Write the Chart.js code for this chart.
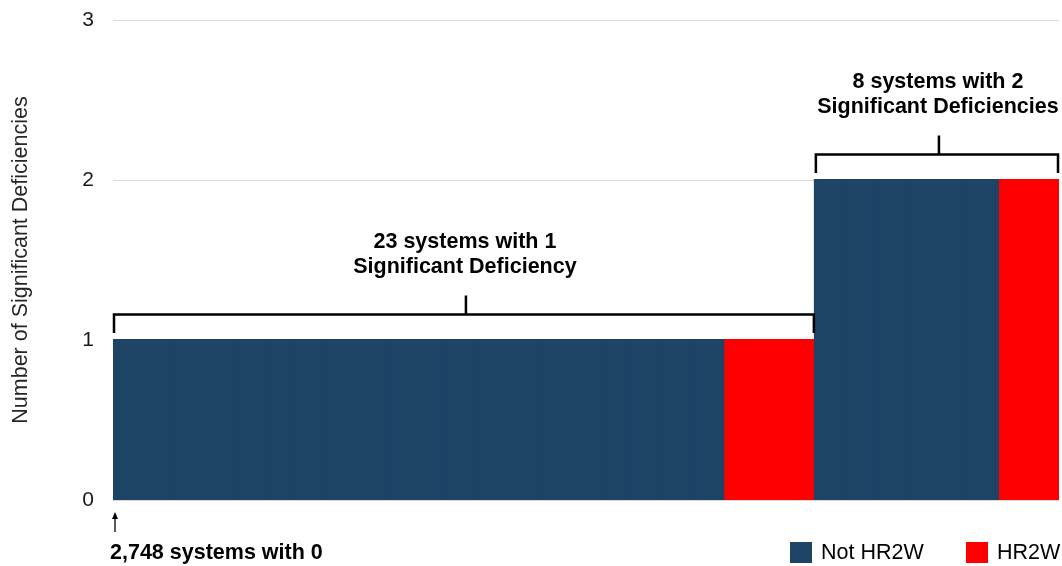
<!DOCTYPE html>
<html>
<head>
<meta charset="utf-8">
<script src="https://cdn.jsdelivr.net/npm/chart.js@4"></script>
<style>
	body { margin: 0; background: #fff; }
	#wrap { width: 1062px; height: 566px; position: relative; }
</style>
</head>
<body>
<div id="wrap"><canvas id="canvas"></canvas></div>
<script>
// groups of systems by number of significant deficiencies
const deficiencyLevels = [1, 2];
const notHr2wCounts = [20, 6];
const hr2wCounts = [3, 2];
const groupLabels = [
	["23 systems with 1", "Significant Deficiency"],
	["8 systems with 2", "Significant Deficiencies"],
];
const zeroLabel = "2,748 systems with 0";
const yTicks = [0, 1, 2, 3];
const seriesNames = ["Not HR2W", "HR2W"];
const seriesColors = ["#1d4465", "#ff0000"];

// one bar per system, in group order
const systems = [];
const notHr2wData = [];
const hr2wData = [];
deficiencyLevels.forEach((level, g) => {
	for (let i = 0; i < notHr2wCounts[g]; i++) {
		systems.push(systems.length + 1);
		notHr2wData.push(level);
		hr2wData.push(null);
	}
	for (let i = 0; i < hr2wCounts[g]; i++) {
		systems.push(systems.length + 1);
		notHr2wData.push(null);
		hr2wData.push(level);
	}
});

const FONT = "'Liberation Sans', Arial, sans-serif";

const annotations = {
	id: "annotations",
	afterDraw(chart) {
		const { ctx, scales: { x, y }, chartArea } = chart;
		const w = x.width / systems.length;
		ctx.save();
		ctx.strokeStyle = "#000";
		ctx.fillStyle = "#000";
		ctx.lineWidth = 2.5;
		let start = 0;
		deficiencyLevels.forEach((level, g) => {
			const n = notHr2wCounts[g] + hr2wCounts[g];
			const left = x.getPixelForValue(start) - w / 2 + 1;
			const right = x.getPixelForValue(start + n - 1) + w / 2 - 1;
			const mid = (left + right) / 2;
			const top = y.getPixelForValue(level);
			const by = top - 25.5;
			ctx.beginPath();
			ctx.moveTo(left, top - 7);
			ctx.lineTo(left, by);
			ctx.lineTo(right, by);
			ctx.lineTo(right, top - 7);
			ctx.moveTo(mid + 2, by);
			ctx.lineTo(mid + 2, by - 19);
			ctx.stroke();
			ctx.font = "bold 21.5px " + FONT;
			ctx.textAlign = "center";
			ctx.textBaseline = "middle";
			ctx.fillText(groupLabels[g][0], mid + 1, by - 72);
			ctx.fillText(groupLabels[g][1], mid + 1, by - 47);
			start += n;
		});

		// arrow for the zero group
		const ax = chartArea.left + 2;
		ctx.lineWidth = 1.3;
		ctx.beginPath();
		ctx.moveTo(ax, 532);
		ctx.lineTo(ax, 515);
		ctx.stroke();
		ctx.beginPath();
		ctx.moveTo(ax, 512);
		ctx.lineTo(ax - 3, 519);
		ctx.lineTo(ax + 3, 519);
		ctx.closePath();
		ctx.fill();
		ctx.font = "bold 21.5px " + FONT;
		ctx.textAlign = "left";
		ctx.textBaseline = "middle";
		ctx.fillText(zeroLabel, 110, 553);

		// legend
		const legendX = [790, 966];
		ctx.font = "21.5px " + FONT;
		seriesNames.forEach((name, i) => {
			ctx.fillStyle = seriesColors[i];
			ctx.fillRect(legendX[i], 542, 22, 21);
			ctx.fillStyle = "#000";
			ctx.fillText(name, legendX[i] + 31, 553);
		});
		ctx.restore();
	},
};

new Chart(document.getElementById("canvas").getContext("2d"), {
	type: "bar",
	data: {
		labels: systems,
		datasets: [
			{
				label: seriesNames[0],
				data: notHr2wData,
				backgroundColor: seriesColors[0],
			},
			{
				label: seriesNames[1],
				data: hr2wData,
				backgroundColor: seriesColors[1],
			},
		],
	},
	options: {
		responsive: true,
		maintainAspectRatio: false,
		animation: false,
		datasets: {
			bar: {
				grouped: false,
				barPercentage: 1,
				categoryPercentage: 1,
				borderWidth: 0,
				inflateAmount: 1,
			},
		},
		layout: { padding: { top: 20, right: 3, bottom: 66, left: 0 } },
		plugins: { legend: { display: false }, tooltip: { enabled: false } },
		scales: {
			x: { display: false },
			y: {
				min: 0,
				max: 3,
				afterFit(scale) {
					scale.width = 113;
					scale.paddingTop = 0;
					scale.paddingBottom = 0;
				},
				afterBuildTicks(scale) { scale.ticks = yTicks.map((v) => ({ value: v })); },
				ticks: { color: "#1a1a1a", padding: 19, font: { family: FONT, size: 21 } },
				grid: { color: "#d9d9d9", drawTicks: false },
				border: { display: false },
				title: {
					display: true,
					text: "Number of Significant Deficiencies",
					color: "#262626",
					font: { family: FONT, size: 21.5 },
					padding: { top: 8, bottom: 0 },
				},
			},
		},
	},
	plugins: [annotations],
});
</script>
</body>
</html>
